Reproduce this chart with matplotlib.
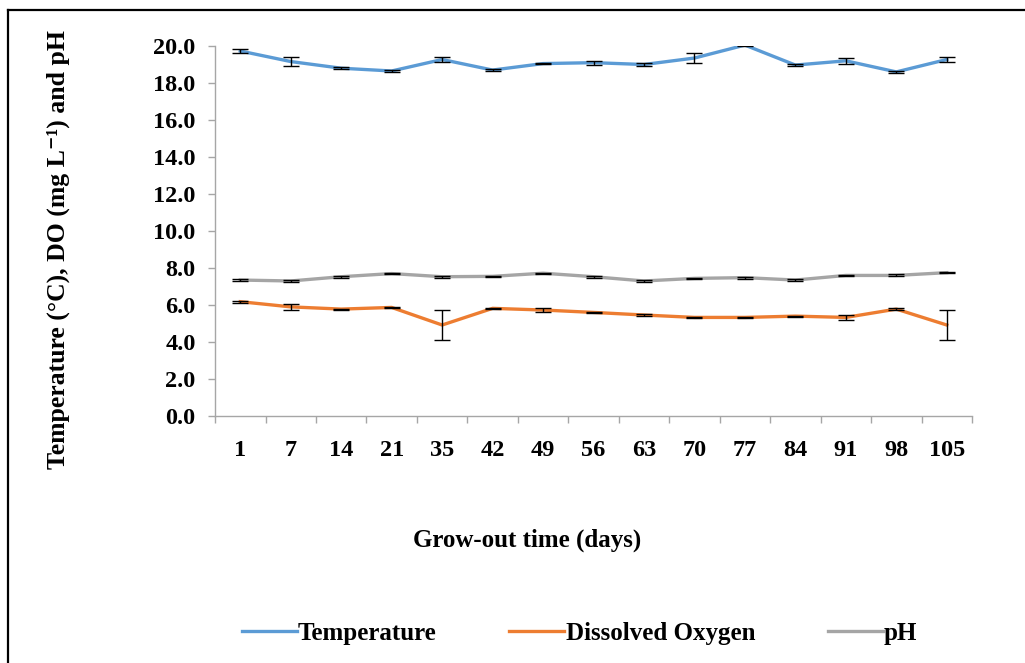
import numpy as np
import matplotlib
matplotlib.use("Agg")
from matplotlib import pyplot as plt
from matplotlib.lines import Line2D

# data
days = ["1", "7", "14", "21", "35", "42", "49", "56", "63", "70", "77", "84", "91", "98", "105"]
temperature = [19.73, 19.16, 18.8, 18.65, 19.27, 18.7, 19.05, 19.1, 19.0, 19.35, 20.05, 18.97, 19.2, 18.6, 19.27]
temperature_err = [0.12, 0.23, 0.04, 0.05, 0.13, 0.05, 0.04, 0.1, 0.1, 0.29, 0.03, 0.05, 0.15, 0.06, 0.13]
dissolved_oxygen = [6.18, 5.9, 5.78, 5.87, 4.92, 5.82, 5.73, 5.6, 5.46, 5.33, 5.33, 5.4, 5.33, 5.78, 4.92]
dissolved_oxygen_err = [0.05, 0.15, 0.03, 0.03, 0.83, 0.03, 0.1, 0.03, 0.03, 0.03, 0.03, 0.03, 0.12, 0.05, 0.83]
ph = [7.35, 7.3, 7.53, 7.7, 7.53, 7.55, 7.72, 7.53, 7.3, 7.44, 7.48, 7.35, 7.6, 7.6, 7.75]
ph_err = [0.03, 0.05, 0.05, 0.03, 0.05, 0.03, 0.03, 0.05, 0.05, 0.03, 0.05, 0.03, 0.03, 0.05, 0.03]

series = [
    ("Temperature", temperature, temperature_err, "#5b9bd5"),
    ("Dissolved Oxygen", dissolved_oxygen, dissolved_oxygen_err, "#ed7d31"),
    ("pH", ph, ph_err, "#a5a5a5"),
]

plt.rcParams["font.family"] = ["Liberation Serif", "DejaVu Serif"]
plt.rcParams["font.weight"] = "bold"

fig = plt.figure(figsize=(10.25, 6.63), dpi=100)
ax = fig.add_axes([0.2098, 0.3725, 0.7385, 0.5581])

x = np.arange(len(days))
handles = []
for name, vals, errs, color in series:
    ax.plot(x, vals, color=color, lw=2.4, solid_joinstyle="round", zorder=2)
    ax.errorbar(x, vals, yerr=errs, fmt="none", ecolor="black", elinewidth=1.0,
                capsize=5.5, capthick=1.0, zorder=3)
    handles.append(Line2D([], [], color=color, lw=2.4, label=name))

ax.set_xlim(-0.5, len(days) - 0.5)
ax.set_ylim(0, 20)
yt = np.arange(0, 20.1, 2)
ax.set_yticks(yt)
ax.set_yticklabels([f"{v:.1f}" for v in yt])
ax.set_xticks(x)
ax.set_xticklabels(days)
ax.set_xticks(np.arange(-0.5, len(days), 1), minor=True)

for s in ["top", "right"]:
    ax.spines[s].set_visible(False)
for s in ["left", "bottom"]:
    ax.spines[s].set_color("#a6a6a6")
    ax.spines[s].set_linewidth(1.0)

ax.tick_params(axis="x", which="major", length=0, pad=17, labelsize=17.5)
ax.tick_params(axis="x", which="minor", length=5, color="#a6a6a6", width=1.0)
ax.tick_params(axis="y", length=5, color="#a6a6a6", width=1.0, pad=9, labelsize=17.5)

ax.set_xlabel("Grow-out time (days)", fontsize=18, fontweight="bold")
ax.xaxis.set_label_coords(0.412, -0.303)
ax.set_ylabel("Temperature (°C), DO (mg L⁻¹) and pH", fontsize=18.5, fontweight="bold")
ax.yaxis.set_label_coords(-0.1915, 0.449)

fig.legend(handles=handles, loc="center", bbox_to_anchor=(0.5654, 0.045), ncol=3,
           frameon=False, fontsize=18, handlelength=2.2, handletextpad=0.05,
           columnspacing=2.9)

# frame lines at the top and left edges
fig.add_artist(Line2D([0.008, 1.0], [0.985, 0.985], transform=fig.transFigure,
                      color="black", lw=1.6))
fig.add_artist(Line2D([0.008, 0.008], [0.0, 0.985], transform=fig.transFigure,
                      color="black", lw=1.6))

fig.savefig("out.png", dpi=100)
